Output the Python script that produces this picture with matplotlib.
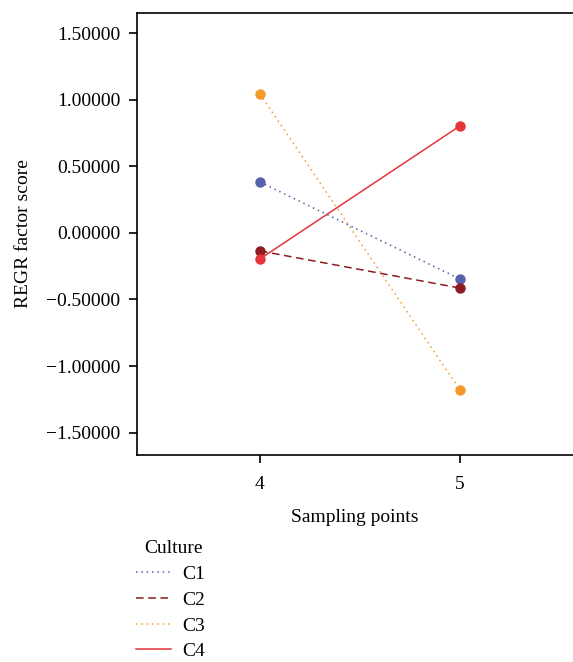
import matplotlib
matplotlib.use("Agg")
import matplotlib.pyplot as plt

plt.rcParams['font.family'] = ['Liberation Serif', 'DejaVu Serif']

# data
sampling_points = [4, 5]
cultures = ['C1', 'C2', 'C3', 'C4']
scores = {
    'C1': [0.383, -0.346],
    'C2': [-0.135, -0.414],
    'C3': [1.045, -1.180],
    'C4': [-0.195, 0.805],
}
y_ticks = [1.5, 1.0, 0.5, 0.0, -0.5, -1.0, -1.5]

colors = {'C1': '#5762ad', 'C2': '#8e1a22', 'C3': '#f39a2b', 'C4': '#e4343c'}
styles = {'C1': (0, (1, 2.5)), 'C2': (0, (5, 3)), 'C3': (0, (1, 2.5)), 'C4': '-'}

fig = plt.figure(figsize=(5.73, 6.62), dpi=100)
ax = fig.add_axes([0.239, 0.3127, 0.761, 0.6677])

for c in cultures:
    ax.plot(sampling_points, scores[c], color=colors[c], linestyle=styles[c],
            linewidth=1.1, label=c)
for c in cultures:
    ax.plot(sampling_points, scores[c], 'o', color=colors[c], markersize=6.5,
            linestyle='none')

ax.set_xlim(3.385, 5.565)
ax.set_ylim(-1.669, 1.654)
ax.set_xticks(sampling_points)
ax.set_xticklabels([str(p) for p in sampling_points])
ax.set_yticks(y_ticks)
ax.set_yticklabels([('−' if v < 0 else '') + '%.5f' % abs(v) for v in y_ticks])
ax.tick_params(axis='both', labelsize=14, length=6, width=1.2, pad=6)
ax.tick_params(axis='x', pad=9)
for s in ax.spines.values():
    s.set_linewidth(1.2)
ax.spines['right'].set_visible(False)
ax.set_xlabel('Sampling points', fontsize=14, labelpad=12)
ax.set_ylabel('REGR factor score', fontsize=14, labelpad=10)

handles, labels = ax.get_legend_handles_labels()
leg = fig.legend(handles[:4], labels[:4], title='Culture', loc='upper left',
                 bbox_to_anchor=(0.237, 0.184), frameon=False, fontsize=14,
                 title_fontsize=14, handlelength=1.8, handletextpad=0.6,
                 labelspacing=0.42, borderpad=0, borderaxespad=0,
                 alignment='left')
leg.get_title().set_position((8, 0))

fig.savefig('out.png', dpi=100)
